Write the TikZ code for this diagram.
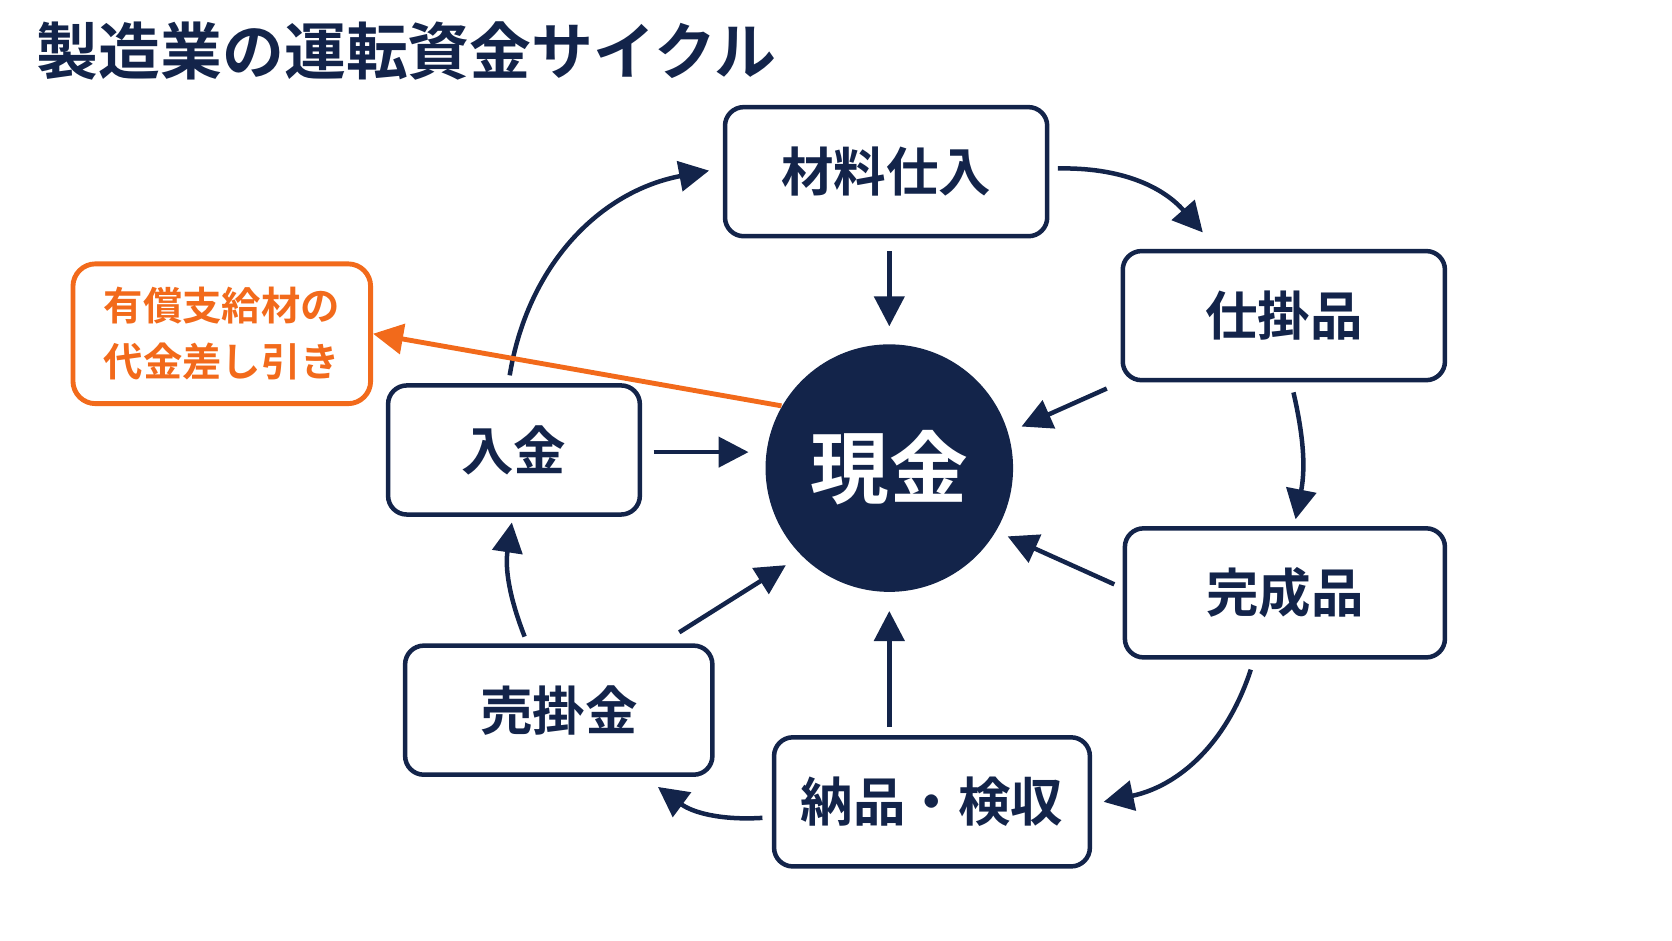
\documentclass[tikz,border=0pt]{standalone}
\usepackage{fontspec}
\setmainfont{Noto Sans CJK JP}[BoldFont={Noto Sans CJK JP Bold}]
\usetikzlibrary{arrows.meta}
\definecolor{navy}{HTML}{13244A}
\definecolor{org}{HTML}{F26A1B}
\begin{document}
\begin{tikzpicture}[x=0.01cm,y=-0.01cm,
  box/.style={draw=navy,line width=1.2pt,rounded corners=5pt,fill=white,text=navy,font=\bfseries\fontsize{14}{16}\selectfont},
  arr/.style={draw=navy,line width=1.2pt,-{Triangle[length=8pt,width=8pt]}},
  oarr/.style={draw=org,line width=1.3pt,-{Triangle[length=8pt,width=8pt]}}]
\useasboundingbox (0,0) rectangle (1568,882);
\node[anchor=west,text=navy,font=\bfseries\fontsize{16.5}{18}\selectfont] (title) at (22,48) {製造業の運転資金サイクル};
\node[box,minimum width=302\pgflinewidth*0+3.02cm,minimum height=1.21cm] (zai) at (831,161) {材料仕入};
\node[box,minimum width=3.02cm,minimum height=1.21cm] (shi) at (1204,296) {仕掛品};
\node[box,minimum width=3.0cm,minimum height=1.21cm] (kan) at (1205,556) {完成品};
\node[box,minimum width=2.96cm,minimum height=1.21cm] (nou) at (874,752) {納品・検収};
\node[box,minimum width=2.88cm,minimum height=1.21cm] (uri) at (524,666) {売掛金};
\node[box,minimum width=2.36cm,minimum height=1.21cm] (nyu) at (482,422) {入金};
\node[draw=org,line width=1.3pt,rounded corners=6pt,text=org,align=center,font=\bfseries\fontsize{10.5}{15}\selectfont,minimum width=2.79cm,minimum height=1.31cm] (yu) at (208,313) {有償支給材の\\代金差し引き};
\node[circle,fill=navy,minimum size=2.32cm,text=white,font=\bfseries\fontsize{21}{24}\selectfont] (cash) at (834,439) {現金};
% cycle
\coordinate (a1) at (992,158); \coordinate (a2) at (1128,218);
\draw[arr] (a1) to[bend left=25] (a2);
\coordinate (b1) at (1213,368); \coordinate (b2) at (1215,487);
\draw[arr] (b1) to[bend left=12] (b2);
\coordinate (c1) at (1173,628); \coordinate (c2) at (1035,752);
\draw[arr] (c1) to[bend left=30] (c2);
\coordinate (d1) at (715,767); \coordinate (d2) at (617,738);
\draw[arr] (d1) to[bend left=20] (d2);
\coordinate (e1) at (492,597); \coordinate (e2) at (480,490);
\draw[arr] (e1) to[bend left=15] (e2);
\coordinate (f1) at (478,352); \coordinate (f2) at (665,160);
\draw[arr] (f1) to[bend left=35] (f2);
% to cash
\draw[arr] (zai.south) ++(3,12) -- (834,306);
\draw[arr,shorten <=4pt] (shi.south west) ++(0,0) -- (958,400);
\draw[arr] (1045,548) -- (945,503);
\draw[arr] (834,682) -- (834,573);
\draw[arr] (637,593) -- (737,530);
\draw[arr] (613,424) -- (702,424);
\draw[oarr] (cash.150) -- (yu.east);
\end{tikzpicture}
\end{document}
